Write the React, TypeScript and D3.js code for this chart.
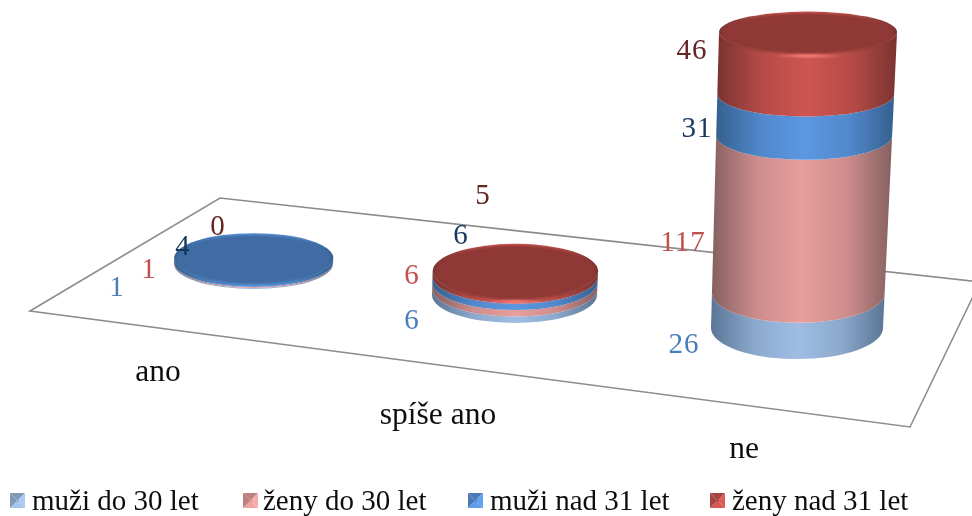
import React from "react";
import * as d3 from "d3";

const categories = ["ano", "spíše ano", "ne"];
const seriesNames = ["muži do 30 let", "ženy do 30 let", "muži nad 31 let", "ženy nad 31 let"];
const muziDo30 = [1, 6, 26];
const zenyDo30 = [1, 6, 117];
const muziNad31 = [4, 6, 31];
const zenyNad31 = [0, 5, 46];
const seriesValues = [muziDo30, zenyDo30, muziNad31, zenyNad31];

// Drawing styles
const sideCentre = ["#9FBDE3", "#E89F9D", "#5C97E2", "#CE5551"];
const sideEdge = ["#5A7595", "#866060", "#35608F", "#7A3331"];
const faceColour = ["#7F9BC0", "#B87F7D", "#3F6CA3", "#8F3835"];
const labelColour = ["#4A7EBB", "#C0504D", "#17375E", "#632523"];

// Layout
const W = 972, H = 516;
const FONT = "'Liberation Serif', serif";
const barCx = d3.scaleOrdinal<string, number>().domain(categories).range([253.5, 514.5, 797]);
const barBaseY = d3.scaleOrdinal<string, number>().domain(categories).range([264, 295, 328]);
const barRx = d3.scaleOrdinal<string, number>().domain(categories).range([79.5, 82.5, 86]);
const barRy = d3.scaleOrdinal<string, number>().domain(categories).range([25, 28, 31]);
const barFullHeight = d3.scaleOrdinal<string, number>().domain(categories).range([220, 229, 296]);
const heightScale = d3.scaleLinear().domain([0, 220]).range([0, 1]);
const plane = [[30, 311], [220, 198], [980, 282], [910, 427]];
const labelPos = [
  [[117, 296], [149, 278], [183, 255], [218, 235]],
  [[412, 329], [412, 284], [461, 244], [483, 204]],
  [[684, 353], [683, 251], [697, 137], [692, 59]],
];
const catLabelPos = [[158, 381], [438, 424], [744, 458]];
const legendSwatchX = [10, 243, 468, 710];
const legendTextX = [32, 263, 490, 732];

function ring(c: string, v: number) {
  const h = heightScale(v) * barFullHeight(c);
  return {
    cx: barCx(c) + (h * 11) / 295,
    cy: barBaseY(c) - h,
    rx: barRx(c) * (1 + (h * 0.035) / 295),
    ry: barRy(c) * (1 - (h * 0.34) / 295),
  };
}

function bandPath(a: ReturnType<typeof ring>, b: ReturnType<typeof ring>) {
  return `M${a.cx - a.rx},${a.cy}A${a.rx},${a.ry} 0 0 0 ${a.cx + a.rx},${a.cy}L${b.cx + b.rx},${b.cy}A${b.rx},${b.ry} 0 0 1 ${b.cx - b.rx},${b.cy}Z`;
}

export default function App() {
  const line = d3.line();
  return (
    <svg width={W} height={H} viewBox={`0 0 ${W} ${H}`} style={{ position: "absolute", left: 0, top: 0, background: "#fff" }}>
      <defs>
        <filter id="soft" x="-5%" y="-5%" width="110%" height="110%">
          <feGaussianBlur stdDeviation="0.55" />
        </filter>
        <filter id="softer" x="-10%" y="-20%" width="120%" height="140%">
          <feGaussianBlur stdDeviation="1.2" />
        </filter>
        {sideCentre.map((c, i) => (
          <linearGradient key={i} id={`side${i}`} x1="0" x2="1" y1="0" y2="0">
            <stop offset="0" stopColor={sideEdge[i]} />
            <stop offset="0.25" stopColor={d3.interpolateRgb(sideEdge[i], c)(0.72)} />
            <stop offset="0.5" stopColor={c} />
            <stop offset="0.75" stopColor={d3.interpolateRgb(sideEdge[i], c)(0.72)} />
            <stop offset="1" stopColor={sideEdge[i]} />
          </linearGradient>
        ))}
        <radialGradient id="shine" cx="0.5" cy="0.5" r="0.5">
          <stop offset="0" stopColor="#ff8a80" stopOpacity="0.8" />
          <stop offset="1" stopColor="#ff8a80" stopOpacity="0" />
        </radialGradient>
      </defs>
      <g filter="url(#soft)">
        <path d={line(plane as [number, number][]) + "Z"} fill="none" stroke="#8c8c8c" strokeWidth={1.6} />
        {categories.map((c, ci) => {
          const cum = d3.cumsum(seriesValues.map((s) => s[ci]));
          const total = cum[cum.length - 1];
          const topIdx = d3.max(seriesValues.map((s, i) => (s[ci] > 0 ? i : -1))) as number;
          const t = ring(c, total);
          const faceCy = t.cy + 1.5;
          return (
            <g key={c}>
              {seriesValues.map((s, i) => {
                if (s[ci] === 0) return null;
                return (
                  <path
                    key={i}
                    d={bandPath(ring(c, i ? cum[i - 1] : 0), ring(c, cum[i]))}
                    fill={`url(#side${i})`}
                  />
                );
              })}
              <ellipse cx={t.cx} cy={t.cy} rx={t.rx} ry={t.ry} fill={`url(#side${topIdx})`} />
              <ellipse cx={t.cx} cy={faceCy} rx={t.rx * 0.97} ry={t.ry} fill={faceColour[topIdx]} filter="url(#softer)" />
              {topIdx === 3 && (
                <ellipse cx={t.cx} cy={faceCy + t.ry + 2} rx={t.rx * 0.4} ry={3} fill="url(#shine)" />
              )}
            </g>
          );
        })}
        {categories.map((c, ci) =>
          seriesValues.map((s, i) => (
            <text
              key={`${c}${i}`}
              x={labelPos[ci][i][0]}
              y={labelPos[ci][i][1]}
              textAnchor="middle"
              fontFamily={FONT}
              fontSize={29}
              fill={labelColour[i]}
              letterSpacing={1}
            >
              {s[ci]}
            </text>
          ))
        )}
        {categories.map((c, ci) => (
          <text key={c} x={catLabelPos[ci][0]} y={catLabelPos[ci][1]} textAnchor="middle" fontFamily={FONT} fontSize={31.5} fill="#111">
            {c}
          </text>
        ))}
        {seriesNames.map((n, i) => {
          const x = legendSwatchX[i], y = 493, s = 15, m = 6;
          const base = sideCentre[i];
          const shades = [d3.color(base)!.darker(0.6), d3.color(base)!.brighter(0.2), d3.color(base)!.brighter(0.1), d3.color(base)!.darker(0.6)];
          const o = [[x, y], [x + s, y], [x + s, y + s], [x, y + s]];
          const inner = [[x + m, y + m], [x + s - m, y + m], [x + s - m, y + s - m], [x + m, y + s - m]];
          return (
            <g key={n}>
              {o.map((p, k) => {
                const q = o[(k + 1) % 4];
                const r = inner[(k + 1) % 4];
                const u = inner[k];
                return <path key={k} d={line([p, q, r, u] as [number, number][]) + "Z"} fill={String(shades[k])} />;
              })}
              <rect x={x + m} y={y + m} width={s - 2 * m} height={s - 2 * m} fill={String(d3.color(base)!.darker(0.2))} />
              <text x={legendTextX[i]} y={510} fontFamily={FONT} fontSize={29} fill="#111">
                {n}
              </text>
            </g>
          );
        })}
      </g>
    </svg>
  );
}
